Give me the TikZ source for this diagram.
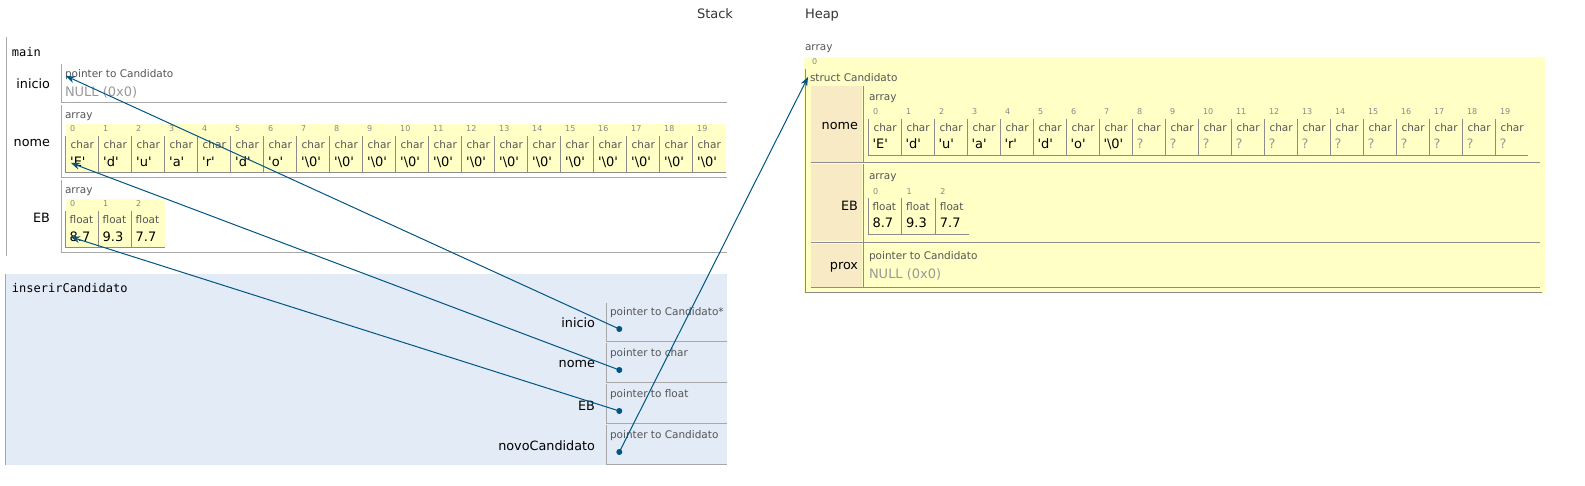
\documentclass[tikz,border=0pt]{standalone}
\usepackage{fontspec}
\setmainfont{DejaVu Sans}[Ligatures=TeXOff]
\setmonofont{DejaVu Sans Mono}
\usetikzlibrary{arrows.meta}
\definecolor{arrowc}{HTML}{005583}
\definecolor{heapyellow}{HTML}{FFFFC6}
\definecolor{tanc}{HTML}{F7EAC4}
\definecolor{framebg}{HTML}{E2EBF6}
\definecolor{linegray}{HTML}{A8A8A8}
\definecolor{cellgray}{HTML}{8C8C8C}
\definecolor{typegray}{HTML}{555555}
\definecolor{nullgray}{HTML}{999999}
\definecolor{idxgray}{HTML}{888888}
\newcommand{\bz}{'\textbackslash0'}
\tikzset{
  txt/.style={inner sep=0pt, outer sep=0pt, anchor=west},
  title/.style={txt, font=\fontsize{13}{15}\selectfont, text=black!80},
  mono/.style={txt, font=\ttfamily\fontsize{12}{14}\selectfont},
  lbl/.style={inner sep=0pt, outer sep=0pt, anchor=east, font=\fontsize{12.8}{15}\selectfont},
  typ/.style={txt, font=\fontsize{10.5}{12}\selectfont, text=typegray},
  nullv/.style={txt, font=\fontsize{13}{15}\selectfont, text=nullgray},
  val/.style={txt, font=\fontsize{13}{15}\selectfont},
  qval/.style={txt, font=\fontsize{13}{15}\selectfont, text=nullgray},
  idx/.style={txt, font=\fontsize{8}{9}\selectfont, text=idxgray},
  boxl/.style={draw=linegray, line width=1pt},
  cell/.style={draw=cellgray, line width=1pt},
  dot/.style={circle, fill=arrowc, inner sep=0pt, minimum size=6pt},
  ptr/.style={draw=arrowc, line width=1pt, -{Stealth[length=9pt,width=7pt]}}
}
\begin{document}
\begin{tikzpicture}[x=1pt,y=-1pt]
\useasboundingbox (0,0) rectangle (1585,486);

% titles
\node[title] (stackT) at (697,14) {Stack};
\node[title] (heapT) at (805,15) {Heap};

% ---------------- main frame ----------------
\draw[boxl] (6,37) -- (6,256);
\node[mono] (mainL) at (12,52) {main};

\draw[boxl] (61,64) -- (61,103) -- (727,103);
\draw[boxl] (61,105) -- (61,178) -- (727,178);
\draw[boxl] (61,180) -- (61,253) -- (727,253);

\node[lbl] (mInicioL) at (50,84) {inicio};
\node[lbl] (mNomeL) at (50,143) {nome};
\node[lbl] (mEBL) at (50,218) {EB};

\node[typ] (mInicioT) at (65,75) {pointer to Candidato};
\node[nullv] (mInicioV) at (65,92) {NULL (0x0)};

% main nome array
\node[typ] (mNomeA) at (65,117) {array};
\fill[heapyellow] (65.7,124) rectangle (726,173);
\foreach \v [count=\k from 0] in {{'E'},{'d'},{'u'},{'a'},{'r'},{'d'},{'o'},\bz,\bz,\bz,\bz,\bz,\bz,\bz,\bz,\bz,\bz,\bz,\bz,\bz} {
  \pgfmathsetmacro\cx{65.7+33*\k}
  \draw[cell] (\cx,136) -- (\cx,173);
  \node[idx] (mni\k) at (\cx+4.5,129) {\k};
  \node[typ] (mnt\k) at (\cx+5,145) {char};
  \node[val] (mnv\k) at (\cx+4.5,162) {\v};
}
\draw[cell] (65.7,173) -- (726,173);

% main EB array
\node[typ] (mEBA) at (65,192) {array};
\fill[heapyellow] (65.7,199) rectangle (165,248);
\foreach \v [count=\k from 0] in {8.7,9.3,7.7} {
  \pgfmathsetmacro\cx{65.7+33*\k}
  \draw[cell] (\cx,211) -- (\cx,248);
  \node[idx] (mei\k) at (\cx+4.5,204) {\k};
  \node[typ] (met\k) at (\cx+4,220) {float};
  \node[val] (mev\k) at (\cx+4,237) {\v};
}
\draw[cell] (65.7,248) -- (165,248);

% ---------------- inserirCandidato frame ----------------
\fill[framebg] (5,274) rectangle (727,465);
\draw[boxl] (5,274) -- (5,465);
\node[mono] (insL) at (12,288) {inserirCandidato};

\draw[boxl] (606,303) -- (606,341) -- (727,341);
\draw[boxl] (606,343) -- (606,382) -- (727,382);
\draw[boxl] (606,384) -- (606,423) -- (727,423);
\draw[boxl] (606,425) -- (606,464) -- (727,464);

\node[lbl] (iInicioL) at (595,323) {inicio};
\node[lbl] (iNomeL) at (595,364) {nome};
\node[lbl] (iEBL) at (595,406) {EB};
\node[lbl] (iNovoL) at (595,446) {novoCandidato};

\node[typ] (iInicioT) at (610,313) {pointer to Candidato*};
\node[typ] (iNomeT) at (610,354) {pointer to char};
\node[typ] (iEBT) at (610,395) {pointer to float};
\node[typ] (iNovoT) at (610,436) {pointer to Candidato};

\node[dot] (dInicio) at (619.3,329) {};
\node[dot] (dNome) at (619.3,370) {};
\node[dot] (dEB) at (619.3,411) {};
\node[dot] (dNovo) at (619.3,452) {};

% ---------------- heap ----------------
\node[typ] (hArr) at (805,49) {array};
\fill[heapyellow] (804,57) rectangle (1545,294);
\node[idx] (hIdx0) at (812,62) {0};
\draw[cell] (805,69) -- (805,293) -- (1542,293);
\node[typ] (hStruct) at (810,78) {struct Candidato};

\fill[tanc] (811,86) rectangle (861.5,162);
\fill[tanc] (811,164.5) rectangle (861.5,241.5);
\fill[tanc] (811,244) rectangle (861.5,287);
\draw[cell] (863,86) -- (863,163);
\draw[cell] (863,164) -- (863,242.5);
\draw[cell] (863,243.5) -- (863,288);
\draw[cell] (811,163) -- (1540,163);
\draw[cell] (811,242.5) -- (1540,242.5);
\draw[cell] (811,288) -- (1540,288);

\node[lbl] (hNomeL) at (858,126) {nome};
\node[lbl] (hEBL) at (858,206) {EB};
\node[lbl] (hProxL) at (858,267) {prox};

% heap nome array
\node[typ] (hNomeA) at (869,99) {array};
\foreach \v [count=\k from 0] in {{'E'},{'d'},{'u'},{'a'},{'r'},{'d'},{'o'},\bz} {
  \node[val] (hnv\k) at (868+33*\k+4.5,144) {\v};
}
\foreach \k in {8,...,19} {
  \node[qval] (hnq\k) at (868+33*\k+4.5,144) {?};
}
\foreach \k in {0,...,19} {
  \pgfmathsetmacro\cx{868+33*\k}
  \draw[cell] (\cx,119) -- (\cx,156);
  \node[idx] (hni\k) at (\cx+5,112) {\k};
  \node[typ] (hnt\k) at (\cx+5.5,128) {char};
}
\draw[cell] (868,156) -- (1528,156);

% heap EB array
\node[typ] (hEBA) at (869,178) {array};
\foreach \v [count=\k from 0] in {8.7,9.3,7.7} {
  \pgfmathsetmacro\cx{868+33.7*\k}
  \draw[cell] (\cx,198) -- (\cx,235);
  \node[idx] (hei\k) at (\cx+5,192) {\k};
  \node[typ] (het\k) at (\cx+4.5,207) {float};
  \node[val] (hev\k) at (\cx+4.5,223) {\v};
}
\draw[cell] (868,235) -- (969,235);

% heap prox
\node[typ] (hProxT) at (869,257) {pointer to Candidato};
\node[nullv] (hProxV) at (869,274) {NULL (0x0)};

% ---------------- pointers ----------------
\coordinate (tInicio) at (66,76);
\coordinate (tNome) at (71,163);
\coordinate (tEB) at (71,237);
\coordinate (tStruct) at (808,77);
\draw[ptr] (dInicio.center) -- (tInicio);
\draw[ptr] (dNome.center) -- (tNome);
\draw[ptr] (dEB.center) -- (tEB);
\draw[ptr] (dNovo.center) -- (tStruct);
\end{tikzpicture}
\end{document}
